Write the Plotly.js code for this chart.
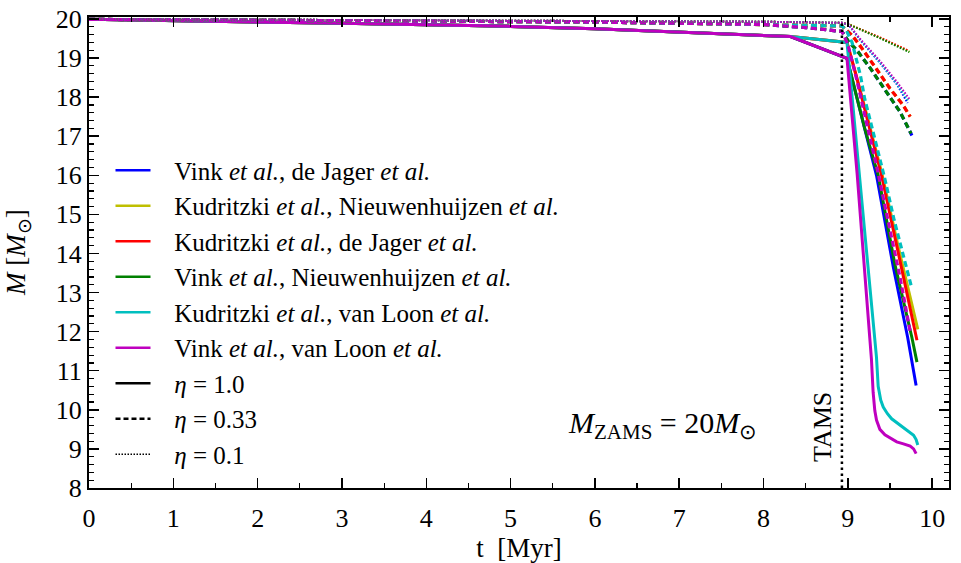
<!DOCTYPE html>
<html>
<head>
<meta charset="utf-8">
<script src="https://cdn.plot.ly/plotly-3.0.1.min.js"></script>
<style>html,body{margin:0;padding:0;background:#fff;}#chart{width:961px;height:563px;}</style>
</head>
<body>
<div id="chart"></div>
<script>
// ---------- data (t in Myr, M in solar masses) ----------
// legend labels
const modelLabels = [
  "Vink <i>et al.</i>, de Jager <i>et al.</i>",
  "Kudritzki <i>et al.</i>, Nieuwenhuijzen <i>et al.</i>",
  "Kudritzki <i>et al.</i>, de Jager <i>et al.</i>",
  "Vink <i>et al.</i>, Nieuwenhuijzen <i>et al.</i>",
  "Kudritzki <i>et al.</i>, van Loon <i>et al.</i>",
  "Vink <i>et al.</i>, van Loon <i>et al.</i>"
];
const etaLabels = ["<i>η</i> = 1.0", "<i>η</i> = 0.33", "<i>η</i> = 0.1"];
const modelColors = ["#0000ff", "#bfbf00", "#ff0000", "#008000", "#00bfbf", "#bf00bf"];

// main sequence (shared) parts
const tMS_eta100 = [0, 1, 2, 3, 4, 5, 6, 7, 8, 8.32];
const mMS_eta100 = [19.99, 19.96, 19.93, 19.89, 19.85, 19.81, 19.75, 19.67, 19.59, 19.55];
const tMS_eta033 = [0, 2, 4, 6, 7, 8];
const mMS_eta033 = [19.99, 19.97, 19.95, 19.92, 19.89, 19.86];
const tMS_eta010 = [0, 4, 8];
const mMS_eta010 = [20.0, 19.97, 19.93];

// eta = 1.0, after t = 8.32
const tVinkDeJager100 = [8.99, 9.1, 9.2, 9.34, 9.54, 9.71, 9.81];
const mVinkDeJager100 = [18.99, 18.05, 17.2, 16.0, 13.65, 11.85, 10.62];
const tKudNieuw100 = [8.99, 9.1, 9.2, 9.4, 9.6, 9.83];
const mKudNieuw100 = [19.4, 18.57, 17.75, 16.08, 14.15, 12.06];
const tKudDeJager100 = [8.99, 9.1, 9.2, 9.4, 9.64, 9.82];
const mKudDeJager100 = [19.4, 18.55, 17.7, 16.0, 13.6, 11.78];
const tVinkNieuw100 = [8.99, 9.1, 9.2, 9.36, 9.56, 9.76, 9.82];
const mVinkNieuw100 = [18.99, 18.05, 17.2, 16.0, 13.7, 11.85, 11.22];
const tKudVanLoon100 = [8.99, 9.14, 9.30, 9.34, 9.36, 9.39, 9.42, 9.47, 9.52, 9.59, 9.66, 9.72, 9.78, 9.81, 9.83];
const mKudVanLoon100 = [19.4, 16.0, 12.2, 11.34, 10.6, 10.25, 10.07, 9.9, 9.77, 9.66, 9.56, 9.46, 9.35, 9.24, 9.1];
const tVinkVanLoon100 = [8.99, 9.11, 9.26, 9.28, 9.30, 9.32, 9.34, 9.38, 9.44, 9.51, 9.58, 9.66, 9.74, 9.78, 9.81];
const mVinkVanLoon100 = [18.99, 16.05, 11.85, 11.3, 10.45, 9.98, 9.74, 9.5, 9.36, 9.26, 9.18, 9.13, 9.07, 9.0, 8.88];

// eta = 0.33, after t = 8
const tVinkDeJager033 = [8.5, 8.93, 9.01, 9.11, 9.26, 9.46, 9.62, 9.76];
const mVinkDeJager033 = [19.78, 19.68, 19.42, 19.19, 18.76, 18.13, 17.62, 17.02];
const tKudNieuw033 = [8.5, 8.93, 9.05, 9.13, 9.34, 9.5, 9.66, 9.74];
const mKudNieuw033 = [19.84, 19.82, 19.58, 19.36, 18.72, 18.22, 17.78, 17.5];
const tKudDeJager033 = [8.5, 8.93, 9.05, 9.13, 9.34, 9.5, 9.66, 9.74];
const mKudDeJager033 = [19.84, 19.82, 19.58, 19.36, 18.72, 18.22, 17.78, 17.5];
const tVinkNieuw033 = [8.5, 8.93, 9.01, 9.11, 9.26, 9.46, 9.62, 9.75];
const mVinkNieuw033 = [19.78, 19.68, 19.42, 19.19, 18.76, 18.13, 17.62, 17.07];
const tKudVanLoon033 = [8.5, 8.93, 8.98, 9.05, 9.15, 9.2, 9.28, 9.38, 9.44, 9.55, 9.7, 9.76];
const mKudVanLoon033 = [19.84, 19.82, 19.72, 19.4, 18.55, 17.96, 17.28, 16.43, 15.9, 14.85, 13.63, 13.1];
const tVinkVanLoon033 = [8.5, 8.93, 9.0, 9.1, 9.2, 9.36, 9.5, 9.62, 9.74];
const mVinkVanLoon033 = [19.78, 19.68, 19.35, 18.5, 17.55, 16.05, 14.6, 13.38, 12.0];

// eta = 0.1, after t = 8
const tVinkDeJager010 = [8.93, 9.01, 9.15, 9.38, 9.58, 9.71];
const mVinkDeJager010 = [19.9, 19.85, 19.45, 18.88, 18.33, 17.85];
const tKudNieuw010 = [8.93, 9.01, 9.38, 9.73];
const mKudNieuw010 = [19.9, 19.87, 19.52, 19.17];
const tKudDeJager010 = [8.93, 9.01, 9.38, 9.72];
const mKudDeJager010 = [19.9, 19.86, 19.53, 19.19];
const tVinkNieuw010 = [8.93, 9.01, 9.38, 9.73];
const mVinkNieuw010 = [19.9, 19.86, 19.51, 19.15];
const tKudVanLoon010 = [8.93, 9.01, 9.15, 9.38, 9.58, 9.72];
const mKudVanLoon010 = [19.9, 19.85, 19.46, 18.89, 18.35, 17.9];
const tVinkVanLoon010 = [8.93, 9.01, 9.15, 9.38, 9.58, 9.73];
const mVinkVanLoon010 = [19.9, 19.86, 19.48, 18.93, 18.4, 17.95];

// terminal-age main sequence marker
const tTAMS = [8.93, 8.93];
const mTAMS = [8, 20.0];

// ---------- build traces ----------
const FONT = "'Liberation Serif'";
const post100 = [[tVinkDeJager100, mVinkDeJager100],[tKudNieuw100, mKudNieuw100],[tKudDeJager100, mKudDeJager100],[tVinkNieuw100, mVinkNieuw100],[tKudVanLoon100, mKudVanLoon100],[tVinkVanLoon100, mVinkVanLoon100]];
const post033 = [[tVinkDeJager033, mVinkDeJager033],[tKudNieuw033, mKudNieuw033],[tKudDeJager033, mKudDeJager033],[tVinkNieuw033, mVinkNieuw033],[tKudVanLoon033, mKudVanLoon033],[tVinkVanLoon033, mVinkVanLoon033]];
const post010 = [[tVinkDeJager010, mVinkDeJager010],[tKudNieuw010, mKudNieuw010],[tKudDeJager010, mKudDeJager010],[tVinkNieuw010, mVinkNieuw010],[tKudVanLoon010, mKudVanLoon010],[tVinkVanLoon010, mVinkVanLoon010]];

const styles = [
  {ms: [tMS_eta100, mMS_eta100], post: post100, line: {width: 3, dash: "solid"}},
  {ms: [tMS_eta033, mMS_eta033], post: post033, line: {width: 3.2, dash: "6px,3.5px"}},
  {ms: [tMS_eta010, mMS_eta010], post: post010, line: {width: 2, dash: "1.6px,1.6px"}}
];

const traces = [];
styles.forEach(function (s) {
  modelColors.forEach(function (c, i) {
    traces.push({
      type: "scatter", mode: "lines",
      x: s.ms[0].concat(s.post[i][0]),
      y: s.ms[1].concat(s.post[i][1]),
      line: Object.assign({color: c}, s.line),
      showlegend: false, hoverinfo: "skip"
    });
  });
});

traces.push({
  type: "scatter", mode: "lines", x: tTAMS, y: mTAMS,
  line: {color: "#000", width: 2.5, dash: "2.5px,3.5px"},
  showlegend: false, hoverinfo: "skip"
});

// legend entries (leading no-break spaces reproduce the gap between key and label)
const PAD = "\u00a0\u00a0\u00a0";
modelLabels.forEach(function (lab, i) {
  traces.push({type: "scatter", mode: "lines", x: [null], y: [null], name: PAD + lab,
    line: {color: modelColors[i], width: 2.5}});
});
const etaLines = [{width: 2.5, dash: "solid"}, {width: 2.5, dash: "5px,3px"}, {width: 1.5, dash: "1.5px,1.5px"}];
etaLabels.forEach(function (lab, i) {
  traces.push({type: "scatter", mode: "lines", x: [null], y: [null], name: PAD + lab,
    line: Object.assign({color: "#000"}, etaLines[i])});
});

const axisCommon = {
  showline: true, linecolor: "#000", linewidth: 2, mirror: "allticks",
  ticks: "inside", ticklen: 10, tickwidth: 1.5, tickcolor: "#000",
  showgrid: false, zeroline: false,
  tickfont: {family: FONT, size: 26, color: "#000"}
};

const layout = {
  width: 961, height: 563,
  margin: {l: 89, r: 12, t: 17, b: 75},
  paper_bgcolor: "#fff", plot_bgcolor: "#fff",
  font: {family: FONT, color: "#000"},
  xaxis: Object.assign({}, axisCommon, {
    range: [0, 10.2], dtick: 1, tick0: 0, ticklabelstandoff: 6,
    minor: {dtick: 0.5, ticklen: 5, tickwidth: 1.2, tickcolor: "#000", ticks: "inside"},
    title: {text: "t  [Myr]", font: {family: FONT, size: 27}, standoff: 8}
  }),
  yaxis: Object.assign({}, axisCommon, {
    range: [8, 20.05], dtick: 1, tick0: 8,
    minor: {dtick: 0.2, ticklen: 5, tickwidth: 1.2, tickcolor: "#000", ticks: "inside"},
    title: {text: ""}
  }),
  showlegend: true,
  legend: {
    x: 0.025, y: 0.723, xanchor: "left", yanchor: "top",
    bgcolor: "rgba(0,0,0,0)", borderwidth: 0,
    font: {family: FONT, size: 25, color: "#000"},
    traceorder: "normal", itemwidth: 35
  },
  annotations: [
    {xref: "paper", yref: "paper", x: -0.083, y: 0.5, xanchor: "center", yanchor: "middle",
     text: "<i>M</i> [<i>M</i><sub>⊙</sub>]", showarrow: false, textangle: -90,
     font: {family: FONT, size: 27, color: "#000"}},
    {xref: "x", yref: "y", x: 8.70, y: 9.55, text: "TAMS", showarrow: false, textangle: -90,
     font: {family: FONT, size: 26, color: "#000"}},
    {xref: "x", yref: "y", x: 6.8, y: 9.62, text: "<i>M</i><sub>ZAMS</sub> = 20<i>M</i><sub>⊙</sub>", showarrow: false,
     font: {family: FONT, size: 30, color: "#000"}}
  ]
};

Plotly.newPlot("chart", traces, layout, {staticPlot: true, displayModeBar: false});
</script>
</body>
</html>
